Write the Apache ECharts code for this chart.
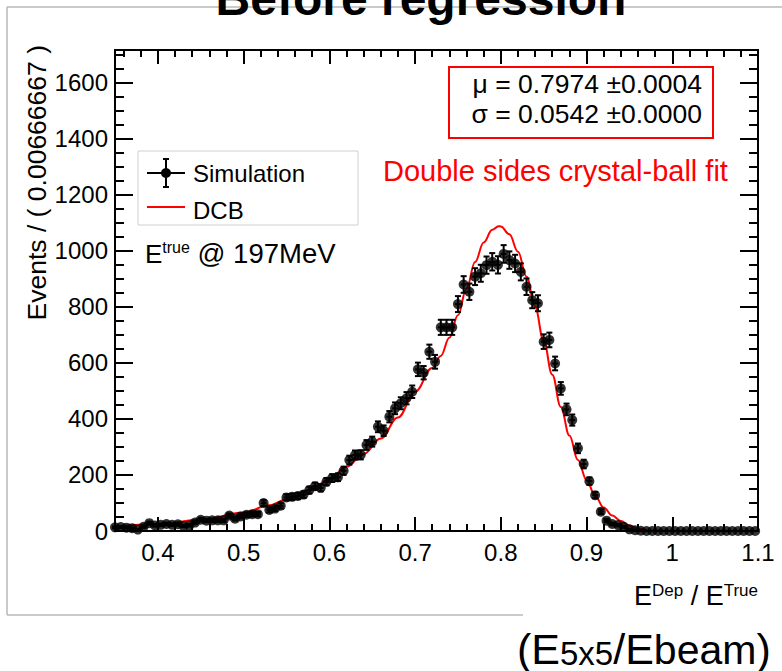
<!DOCTYPE html>
<html>
<head>
<meta charset="utf-8">
<script src="https://cdn.jsdelivr.net/npm/echarts@6/dist/echarts.min.js"></script>
<style>
  html, body { margin: 0; padding: 0; background: #fff; }
  #chart { width: 782px; height: 671px; }
</style>
</head>
<body>
<div id="chart"></div>
<script>
// Histogram: 150 bins over [0.1, 1.1]; the visible window starts at the bin centred on 0.35
const binWidth = 0.00666667;
const firstCenter = 0.35;

// Simulated events per bin (E_dep / E_true at 197 MeV)
const counts = [
  13, 14, 12, 10, 5, 15, 28, 20, 22, 25,
  22, 24, 18, 20, 30, 40, 37, 38, 38, 38,
  55, 44, 52, 58, 60, 60, 100, 75, 80, 90,
  120, 122, 125, 130, 146, 160, 154, 176, 189, 192,
  215, 253, 271, 272, 307, 319, 372, 358, 408, 438,
  456, 474, 497, 577, 565, 640, 604, 727, 727, 727,
  810, 880, 854, 908, 920, 949, 961, 950, 989, 967,
  955, 925, 872, 824, 813, 676, 682, 598, 509, 434,
  396, 295, 239, 178, 128, 69, 37, 25, 21, 15,
  6, 3, 1, 0, 0, 0, 0, 0, 0, 0,
  0, 0, 0, 0, 0, 0, 0, 0, 0, 0,
  0, 0, 0
];

// Double-sided crystal-ball fit curve, sampled along x
const fitX = [0.35, 0.40, 0.45, 0.50, 0.53, 0.55, 0.58, 0.60, 0.62, 0.64,
              0.66, 0.68, 0.70, 0.72, 0.73, 0.74, 0.75, 0.76, 0.77, 0.78,
              0.79, 0.7974, 0.80, 0.81, 0.82, 0.83, 0.84, 0.85, 0.86, 0.87,
              0.88, 0.89, 0.90, 0.91, 0.92, 0.93, 0.94, 0.95, 0.96, 0.97,
              0.98, 1.00, 1.05, 1.10];
const fitY = [16, 25, 40, 66, 92, 112, 150, 185, 229, 275,
              330, 405, 497, 582, 625, 690, 770, 866, 960, 1030,
              1075, 1088, 1087, 1059, 997, 908, 799, 679, 558, 443,
              341, 253, 182, 126, 84, 55, 36, 20, 9, 3,
              1, 0, 0, 0];

// Axis ticks and labels
const xMajor = [0.4, 0.5, 0.6, 0.7, 0.8, 0.9, 1.0, 1.1];
const xMajorLabels = ['0.4', '0.5', '0.6', '0.7', '0.8', '0.9', '1', '1.1'];
const yMajor = [0, 200, 400, 600, 800, 1000, 1200, 1400, 1600];
const yMajorLabels = ['0', '200', '400', '600', '800', '1000', '1200', '1400', '1600'];

const X_MIN = 0.35, X_MAX = 1.1, Y_MIN = 0, Y_MAX = 1717;
const FONT = '"Liberation Sans", Arial, Helvetica, sans-serif';

// minor ticks: every 0.02 on x, every 50 on y
const xMinor = [];
for (let i = 18; i <= 55; i++) {
  const v = +(i * 0.02).toFixed(2);
  if (v > X_MIN && v <= X_MAX) xMinor.push(v);
}
const yMinor = [];
for (let v = 0; v <= Y_MAX; v += 50) yMinor.push(v);

const binCenters = counts.map((_, i) => +(firstCenter + i * binWidth).toFixed(5));
const points = counts.map((c, i) => [binCenters[i], c]);
const errData = counts.map((c, i) => [binCenters[i], c, Math.sqrt(c)]);
const fitData = fitX.map((x, i) => [x, fitY[i]]);

const chart = echarts.init(document.getElementById('chart'), null, { renderer: 'svg', width: 782, height: 671 });

function xAxisDef(position, major) {
  const labelled = position === 'bottom' && major;
  return {
    type: 'value', gridIndex: 0, position: position, min: X_MIN, max: X_MAX,
    axisLine: { show: major, onZero: false, lineStyle: { color: '#000', width: 2 } },
    axisTick: { show: true, inside: true, length: major ? 14 : 7,
                customValues: major ? xMajor : xMinor,
                lineStyle: { color: '#000', width: 2 } },
    axisLabel: labelled ? {
      show: true, customValues: xMajor, margin: 9, color: '#000', fontSize: 24, fontFamily: FONT,
      formatter: v => xMajorLabels[xMajor.findIndex(t => Math.abs(t - v) < 1e-6)] || ''
    } : { show: false },
    splitLine: { show: false }
  };
}
function yAxisDef(position, major) {
  const labelled = position === 'left' && major;
  return {
    type: 'value', gridIndex: 0, position: position, min: Y_MIN, max: Y_MAX,
    axisLine: { show: major, onZero: false, lineStyle: { color: '#000', width: 2 } },
    axisTick: { show: true, inside: true, length: major ? 18 : 9,
                customValues: major ? yMajor : yMinor,
                lineStyle: { color: '#000', width: 2 } },
    axisLabel: labelled ? {
      show: true, customValues: yMajor, margin: 7, color: '#000', fontSize: 24, fontFamily: FONT,
      formatter: v => yMajorLabels[yMajor.indexOf(Math.round(v))] || ''
    } : { show: false },
    splitLine: { show: false }
  };
}

// vertical error bar with end caps, plus the half-bin horizontal bar
function renderErr(params, api) {
  const x = api.value(0), y = api.value(1), e = api.value(2);
  const c = api.coord([x, y]);
  const t = api.coord([x, y + e]);
  const b = api.coord([x, Math.max(0, y - e)]);
  const l = api.coord([x - binWidth / 2, y]);
  const r = api.coord([x + binWidth / 2, y]);
  const st = { stroke: '#000', lineWidth: 2 };
  return {
    type: 'group',
    children: [
      { type: 'line', shape: { x1: t[0], y1: t[1], x2: b[0], y2: b[1] }, style: st },
      { type: 'line', shape: { x1: t[0] - 3, y1: t[1], x2: t[0] + 3, y2: t[1] }, style: st },
      { type: 'line', shape: { x1: b[0] - 3, y1: b[1], x2: b[0] + 3, y2: b[1] }, style: st },
      { type: 'line', shape: { x1: l[0], y1: c[1], x2: r[0], y2: c[1] }, style: st }
    ]
  };
}

function txt(x, y, text, opts) {
  opts = opts || {};
  return {
    type: 'text', x: x, y: y, z: 100, rotation: opts.rotation || 0,
    style: {
      text: text, fill: opts.color || '#000',
      font: (opts.weight || 'normal') + ' ' + (opts.size || 24) + 'px ' + FONT,
      textAlign: opts.align || 'left', textVerticalAlign: opts.valign || 'middle',
      align: opts.align || 'left', verticalAlign: opts.valign || 'middle',
      rich: opts.rich
    }
  };
}
function seg(x1, y1, x2, y2, color, w) {
  return { type: 'line', z: 100, shape: { x1, y1, x2, y2 }, style: { stroke: color, lineWidth: w } };
}

const graphics = [
  // pad border
  seg(7, 7, 782, 7, '#b8b8b8', 1.5),
  seg(7, 7, 7, 615, '#b8b8b8', 1.5),
  seg(7, 615, 523, 615, '#b8b8b8', 1.5),
  // title
  txt(421, 22, 'Before regression', { size: 48, weight: 'bold', align: 'center', valign: 'bottom' }),
  // y axis title
  txt(37, 45, 'Events / ( 0.00666667 )', { size: 26.5, align: 'right', rotation: Math.PI / 2 }),
  // x axis title
  txt(758, 609, '{m|E}{s|Dep}{m| / E}{s|True}', { align: 'right', valign: 'bottom', rich: {
    m: { fontSize: 27, fontFamily: FONT, fill: '#000', verticalAlign: 'bottom' },
    s: { fontSize: 17, fontFamily: FONT, fill: '#000', verticalAlign: 'top' } } }),
  // beam-energy normalisation note
  txt(517, 670, '{b|(E}{s|5x5}{b|/E}{m|beam}{b|)}', { align: 'left', valign: 'bottom', rich: {
    b: { fontSize: 43, fontFamily: FONT, fill: '#000', verticalAlign: 'bottom' },
    m: { fontSize: 41, fontFamily: FONT, fill: '#000', verticalAlign: 'bottom' },
    s: { fontSize: 33, fontFamily: FONT, fill: '#000', verticalAlign: 'bottom' } } }),
  // fit result box
  { type: 'rect', z: 99, shape: { x: 449, y: 67, width: 264, height: 71 },
    style: { fill: '#fff', stroke: '#ff0000', lineWidth: 2 } },
  txt(702, 84, 'μ = 0.7974 ±0.0004', { size: 26.5, align: 'right' }),
  txt(702, 114, 'σ = 0.0542 ±0.0000', { size: 26.5, align: 'right' }),
  txt(383, 171, 'Double sides crystal-ball fit', { size: 29, color: '#ff0000' }),
  // legend
  { type: 'rect', z: 99, shape: { x: 138, y: 151, width: 220, height: 74 },
    style: { fill: '#fff', stroke: '#d0d0d0', lineWidth: 1 } },
  seg(147, 173, 185, 173, '#000', 2),
  seg(166, 159, 166, 187, '#000', 2),
  seg(163, 159, 169, 159, '#000', 2),
  seg(163, 187, 169, 187, '#000', 2),
  { type: 'circle', z: 100, shape: { cx: 166, cy: 173, r: 5 }, style: { fill: '#000' } },
  txt(193, 173, 'Simulation', { size: 24 }),
  seg(147, 207, 185, 207, '#ff0000', 2),
  txt(193, 210, 'DCB', { size: 24 }),
  // beam energy annotation
  txt(145, 267, '{m|E}{s|true}{g| @ 197MeV}', { valign: 'bottom', rich: {
    m: { fontSize: 26, fontFamily: FONT, fill: '#000', verticalAlign: 'bottom' },
    g: { fontSize: 27.5, fontFamily: FONT, fill: '#000', verticalAlign: 'bottom' },
    s: { fontSize: 16, fontFamily: FONT, fill: '#000', verticalAlign: 'top' } } })
];

chart.setOption({
  backgroundColor: '#fff',
  animation: false,
  grid: { left: 115, top: 50, width: 643, height: 481, show: true, borderColor: '#000', borderWidth: 2,
          backgroundColor: 'transparent' },
  xAxis: [xAxisDef('bottom', true), xAxisDef('bottom', false), xAxisDef('top', true), xAxisDef('top', false)],
  yAxis: [yAxisDef('left', true), yAxisDef('left', false), yAxisDef('right', true), yAxisDef('right', false)],
  series: [
    { name: 'DCB', type: 'line', xAxisIndex: 0, yAxisIndex: 0, data: fitData, showSymbol: false,
      smooth: 0.4, smoothMonotone: 'x', lineStyle: { color: '#ff0000', width: 2 }, z: 2, clip: true },
    { name: 'Simulation errors', type: 'custom', xAxisIndex: 0, yAxisIndex: 0, data: errData,
      renderItem: renderErr, z: 3, clip: false },
    { name: 'Simulation', type: 'scatter', xAxisIndex: 0, yAxisIndex: 0, data: points,
      symbol: 'circle', symbolSize: 10, itemStyle: { color: '#000' }, z: 4, clip: false }
  ],
  graphic: graphics
});
</script>
</body>
</html>
